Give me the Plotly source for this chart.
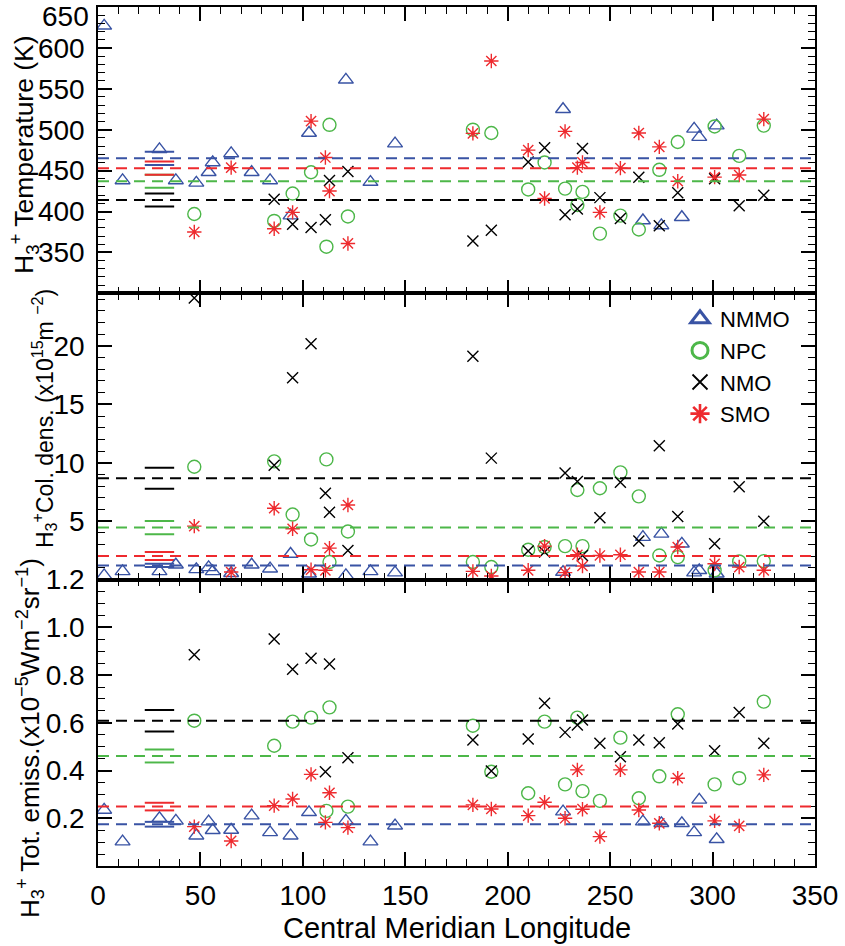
import plotly.graph_objects as go
from plotly.subplots import make_subplots

# ---- observations: central meridian longitude (deg) and retrieved H3+ parameters ----
nmmo_lon = [3, 12, 30, 38, 48, 54, 56, 65, 75, 84, 94, 103, 121, 133, 145,
            227, 266, 275, 285, 291, 293.5, 302]
nmmo_temp = [627, 438, 476, 438, 435, 448, 460, 471, 448, 438, 395, 496, 561, 436, 483,
             525, 389, 383, 393, 501, 491, 505]
nmmo_dens = [0.37, 0.71, 0.71, 1.28, 0.88, 1.05, 0.71, 0.55, 1.28, 0.94, 2.2, 0.51, 0.37, 0.71, 0.6,
             0.65, 3.64, 3.92, 3.07, 0.6, 0.8, 0.51]
nmmo_emis = [0.235, 0.102, 0.2, 0.189, 0.127, 0.186, 0.15, 0.151, 0.211, 0.141, 0.127, 0.225, 0.189,
             0.102, 0.169, 0.228, 0.186, 0.179, 0.179, 0.141, 0.277, 0.112]

npc_lon = [47, 86, 95, 104, 111.5, 113, 122, 183, 192, 210, 218, 228, 234, 236.5, 245, 255,
           264, 274, 283, 301, 313, 325]
npc_temp = [397, 388.5, 422, 448, 357, 506, 394, 500, 496, 427, 460, 428, 408, 424, 373, 395,
            378, 451, 485, 504, 468, 505]
npc_dens = [9.66, 10.12, 5.57, 3.44, 10.29, 1.51, 4.12, 1.51, 1.08, 2.56, 2.79, 2.87, 7.67, 2.87,
            7.82, 9.18, 7.13, 2.07, 1.93, 0.8, 1.56, 1.59]
npc_emis = [0.609, 0.504, 0.605, 0.622, 0.231, 0.665, 0.249, 0.588, 0.395, 0.305, 0.605, 0.342,
            0.622, 0.314, 0.273, 0.538, 0.284, 0.376, 0.636, 0.342, 0.368, 0.689]

nmo_lon = [47, 86, 95, 104, 111, 113, 122, 183, 192, 210, 218, 228, 234, 236.5, 245, 255,
           264, 274, 283, 301, 313, 325]
nmo_temp = [None, 415, 384.5, 380.5, 390, 438, 449, 364, 377, 460.5, 478, 396, 403, 477, 417,
            391.5, 442, 382.5, 423, 440, 407, 420]
nmo_dens = [24.1, 9.8, 17.28, 20.18, 7.39, 5.77, 2.5, 19.12, 10.4, 2.45, 2.36, 9.12, 8.41, 2.07,
            5.29, 8.33, 3.3, 11.45, 5.4, 3.07, 7.95, 5.0]
nmo_emis = [0.885, 0.951, 0.825, 0.871, 0.395, 0.847, 0.454, 0.528, 0.398, 0.532, 0.682, 0.56,
            0.591, 0.612, 0.514, 0.458, 0.528, 0.517, 0.595, 0.483, 0.643, 0.514]

smo_lon = [47, 65, 86, 95, 104, 111, 113, 122, 183, 192, 210, 218, 228, 234, 236.5, 245, 255,
           264, 274, 283, 301, 313, 325]
smo_temp = [375, 453.6, 379, 399, 510.5, 466, 425, 361, 495.5, 584, 475, 416, 498, 453.6, 460,
            399, 453, 496, 479, 437, 442, 444.6, 513]
smo_dens = [4.58, 0.65, 6.11, 4.35, 0.85, 0.8, 2.7, 6.39, 0.71, 0.31, 0.8, 2.87, 0.6, 2.13, 1.17,
            2.07, 2.13, 0.65, 0.65, 2.79, 1.36, 1.08, 0.8]
smo_emis = [0.165, 0.105, 0.253, 0.281, 0.384, 0.183, 0.307, 0.161, 0.256, 0.239, 0.211, 0.267,
            0.2, 0.403, 0.238, 0.123, 0.403, 0.235, 0.179, 0.368, 0.189, 0.168, 0.382]

# ---- region means and their uncertainties (order: NMMO, NPC, NMO, SMO) ----
regions = ["NMMO", "NPC", "NMO", "SMO"]
temp_mean = [465, 437, 414, 453]
temp_err = [8, 8, 8, 8]
dens_mean = [1.22, 4.46, 8.67, 2.02]
dens_err = [0.14, 0.57, 0.9, 0.34]
emis_mean = [0.175, 0.461, 0.609, 0.249]
emis_err = [0.01, 0.027, 0.045, 0.016]
err_lon = 30  # longitude where the mean +/- error bars are shown

# ---- axis ticks ----
temp_ticks = [350, 400, 450, 500, 550, 600, 650]
dens_ticks = [5, 10, 15, 20]
emis_ticks = [0.2, 0.4, 0.6, 0.8, 1.0, 1.2]

# ---- styling ----
BLUE, GREEN, BLACK, RED = "#3953A4", "#4DB749", "#000000", "#EE2A2E"
FONT = "Liberation Sans, Arial, Helvetica, sans-serif"

styles = {
    "NMMO": dict(color=BLUE, symbol="triangle-up-open", size=13, lw=1.4),
    "NPC": dict(color=GREEN, symbol="circle-open", size=13, lw=1.4),
    "NMO": dict(color=BLACK, symbol="x-thin-open", size=11, lw=1.4),
    "SMO": dict(color=RED, symbol="asterisk-open", size=12, lw=1.4),
}
data = {
    "NMMO": (nmmo_lon, nmmo_temp, nmmo_dens, nmmo_emis),
    "NPC": (npc_lon, npc_temp, npc_dens, npc_emis),
    "NMO": (nmo_lon, nmo_temp, nmo_dens, nmo_emis),
    "SMO": (smo_lon, smo_temp, smo_dens, smo_emis),
}

fig = make_subplots(rows=3, cols=1, shared_xaxes=True, vertical_spacing=0)

means = [(temp_mean, temp_err), (dens_mean, dens_err), (emis_mean, emis_err)]
line_order = ["NMO", "NPC", "SMO", "NMMO"]

# dashed mean lines and short error markers
for row, (mv, ev) in enumerate(means, start=1):
    for name in line_order:
        i = regions.index(name)
        c = styles[name]["color"]
        fig.add_hline(y=mv[i], line=dict(color=c, width=2, dash="11px,7px"),
                      row=row, col=1, exclude_empty_subplots=False)
        fig.add_trace(go.Scatter(
            x=[err_lon, err_lon], y=[mv[i] + ev[i], mv[i] - ev[i]], mode="markers",
            marker=dict(symbol="line-ew-open", size=21, color=c, line=dict(color=c, width=2)),
            showlegend=False, hoverinfo="skip"), row=row, col=1)

# observation markers
for name in regions:
    lon, temp, dens, emis = data[name]
    st = styles[name]
    for row, vals in enumerate([temp, dens, emis], start=1):
        fig.add_trace(go.Scatter(
            x=lon, y=vals, mode="markers", name=name, showlegend=False,
            marker=dict(symbol=st["symbol"], size=st["size"], color=st["color"],
                        line=dict(color=st["color"], width=st["lw"]))),
            row=row, col=1)

# legend entries (bolder symbols)
legend_lw = {"NMMO": 3, "NPC": 3, "NMO": 1.8, "SMO": 2.6}
legend_size = {"NMMO": 17, "NPC": 16, "NMO": 15, "SMO": 17}
for name in regions:
    st = styles[name]
    fig.add_trace(go.Scatter(
        x=[None], y=[None], mode="markers", name=name, showlegend=True,
        marker=dict(symbol=st["symbol"], size=legend_size[name], color=st["color"],
                    line=dict(color=st["color"], width=legend_lw[name]))),
        row=2, col=1)

axis_common = dict(
    showline=True, linecolor="black", linewidth=1.5, mirror="allticks",
    ticks="inside", ticklen=14, tickwidth=1.5, tickcolor="black",
    showgrid=False, zeroline=False, automargin=False,
    tickfont=dict(family=FONT, size=28, color="black"),
)

for row in (1, 2, 3):
    fig.update_xaxes(
        range=[0, 350], dtick=50, tick0=0,
        minor=dict(ticks="inside", ticklen=7, dtick=10, tickwidth=1.3, tickcolor="black"),
        showticklabels=(row == 3), ticklabelstandoff=4,
        **axis_common, row=row, col=1)

# the top temperature label sits just inside the figure, so it is written separately
fig.update_yaxes(range=[300, 650], tickvals=temp_ticks,
                 ticktext=[str(v) for v in temp_ticks[:-1]] + [""],
                 minor=dict(ticks="inside", ticklen=7, dtick=10, tickwidth=1.3, tickcolor="black"),
                 ticklabelstandoff=6, **axis_common, row=1, col=1)
fig.update_yaxes(range=[0, 24.5], tickvals=dens_ticks,
                 minor=dict(ticks="inside", ticklen=7, dtick=1, tickwidth=1.3, tickcolor="black"),
                 ticklabelstandoff=6, **axis_common, row=2, col=1)
fig.update_yaxes(range=[0, 1.2], tickvals=emis_ticks, tickformat=".1f",
                 minor=dict(ticks="inside", ticklen=7, dtick=0.05, tickwidth=1.3, tickcolor="black"),
                 ticklabelstandoff=6, **axis_common, row=3, col=1)

W, H = 845, 946
ML, MR, MT, MB = 98, 30, 7, 80


def py(px):
    """paper y for a pixel row"""
    return (H - MB - px) / (H - MT - MB)


annotations = [
    dict(text=str(temp_ticks[-1]), x=0, xref="paper", xshift=-7, xanchor="right",
         y=1, yref="paper", yshift=-9, yanchor="middle", showarrow=False,
         font=dict(family=FONT, size=28, color="black")),
    dict(text="H<sub>3</sub><sup>+</sup> Temperature (K)", x=0, xref="paper", xshift=24 - ML,
         y=py(155), yref="paper", textangle=-90, showarrow=False,
         font=dict(family=FONT, size=26.5, color="black"), xanchor="center", yanchor="middle"),
    dict(text="H<sub>3</sub><sup>+</sup>Col. dens. (x10<sup>15</sup>m <sup>−2</sup>)", x=0, xref="paper",
         xshift=44 - ML, y=py(419), yref="paper", textangle=-90, showarrow=False,
         font=dict(family=FONT, size=23, color="black"), xanchor="center", yanchor="middle"),
    dict(text="H<sub>3</sub><sup>+</sup> Tot. emiss.(x10<sup>−5</sup>Wm<sup>−2</sup>sr<sup>−1</sup>)",
         x=0, xref="paper", xshift=30 - ML, y=py(738), yref="paper", textangle=-90,
         showarrow=False, font=dict(family=FONT, size=26, color="black"),
         xanchor="center", yanchor="middle"),
    dict(text="Central Meridian Longitude", x=0.5, xref="paper", y=py(928), yref="paper",
         showarrow=False, font=dict(family=FONT, size=29, color="black"),
         xanchor="center", yanchor="middle"),
]

fig.update_layout(
    width=W, height=H,
    margin=dict(l=ML, r=MR, t=MT, b=MB, autoexpand=False),
    paper_bgcolor="white", plot_bgcolor="white",
    annotations=annotations,
    legend=dict(x=(680 - ML) / (W - ML - MR), xanchor="left", y=py(298), yanchor="top",
                font=dict(family=FONT, size=22, color="black"),
                bgcolor="rgba(0,0,0,0)", tracegroupgap=0, itemsizing="trace"),
)

fig.write_html("out.html")
